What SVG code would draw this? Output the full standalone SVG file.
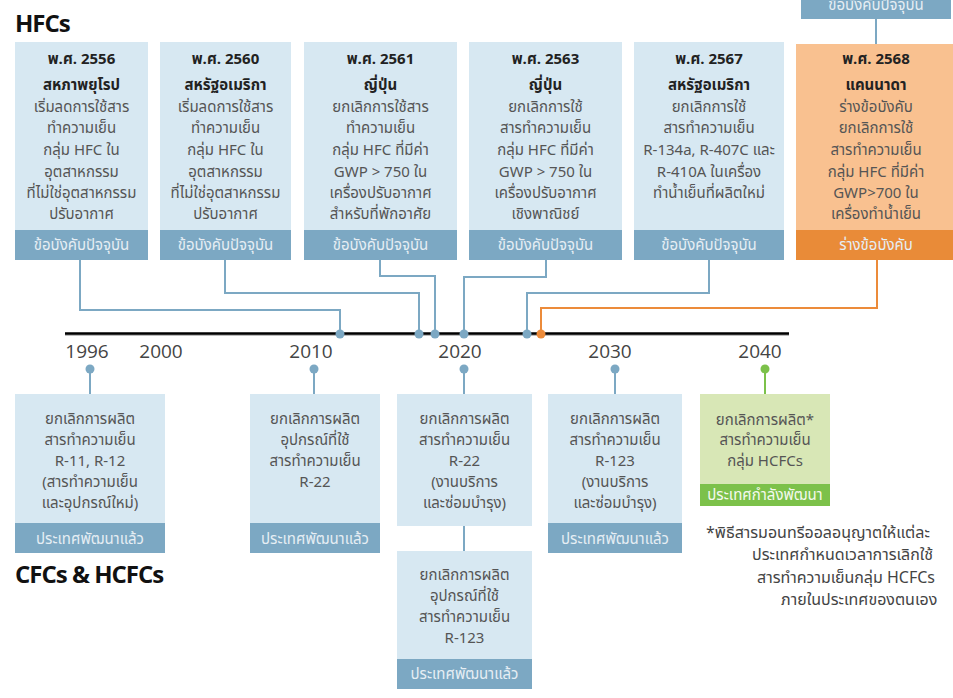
<svg xmlns="http://www.w3.org/2000/svg" width="953" height="698" viewBox="0 0 953 698">
<style>
text{font-family:"Noto Sans Thai","Noto Sans","Liberation Sans",sans-serif;}
.body{fill:#d7e8f2}
.foot{fill:#7ca8c3}
.obody{fill:#f9c190}
.ofoot{fill:#e98b38}
.gbody{fill:#d8e7b6}
.gfoot{fill:#7cc14a}
.h{font-size:15px;font-weight:bold;fill:#222;text-anchor:middle}
.t{font-size:15px;fill:#555;text-anchor:middle}
.ft{font-size:15px;fill:#e6eef4;text-anchor:middle}
.yr{font-family:"Open Sans","Noto Sans",sans-serif;font-size:19px;fill:#444;text-anchor:middle}
.title{font-family:"Open Sans","Liberation Sans",sans-serif;font-size:24px;font-weight:bold;fill:#111;letter-spacing:-1px}
.note{font-size:16px;fill:#444}
.c{fill:none;stroke:#7ca8c3;stroke-width:2}
.co{fill:none;stroke:#ec8b3a;stroke-width:2}
.cg{fill:none;stroke:#7cc14a;stroke-width:2}
</style>

<text class="title" x="15" y="32">HFCs</text>
<text class="title" x="15" y="583">CFCs &amp; HCFCs</text>

<g id="connectors">
  <path class="c" d="M80 259 V310 H340 V334"/>
  <path class="c" d="M225 259 V293 H419 V334"/>
  <path class="c" d="M380 259 V276 H435 V334"/>
  <path class="c" d="M546 259 V277 H464 V334"/>
  <path class="c" d="M709 259 V293 H527 V334"/>
  <path class="co" d="M877 259 V308 H541 V334"/>
  <path class="c" d="M876 19 V44"/>
  <path class="c" d="M90 369 V394"/>
  <path class="c" d="M314 369 V394"/>
  <path class="c" d="M464 369 V394"/>
  <path class="c" d="M464 526 V551"/>
  <path class="c" d="M615 369 V394"/>
  <path class="cg" d="M765 369 V394"/>
</g>

<g id="timeline">
  <line x1="65" y1="334.5" x2="789" y2="334.5" stroke="#bbb" stroke-width="3"/>
  <line x1="65" y1="333.5" x2="789" y2="333.5" stroke="#000" stroke-width="2.5"/>
  <circle cx="340" cy="334" r="4.5" fill="#7ca8c3"/>
  <circle cx="419" cy="334" r="4.5" fill="#7ca8c3"/>
  <circle cx="435" cy="334" r="4.5" fill="#7ca8c3"/>
  <circle cx="464" cy="334" r="4.5" fill="#7ca8c3"/>
  <circle cx="527" cy="334" r="4.5" fill="#7ca8c3"/>
  <circle cx="541" cy="334" r="4.5" fill="#ec8b3a"/>
  <text class="yr" x="87" y="358">1996</text>
  <text class="yr" x="161" y="358">2000</text>
  <text class="yr" x="311" y="358">2010</text>
  <text class="yr" x="460" y="358">2020</text>
  <text class="yr" x="610" y="358">2030</text>
  <text class="yr" x="760" y="358">2040</text>
  <circle cx="90" cy="369" r="4.5" fill="#7ca8c3"/>
  <circle cx="314" cy="369" r="4.5" fill="#7ca8c3"/>
  <circle cx="464" cy="369" r="4.5" fill="#7ca8c3"/>
  <circle cx="615" cy="369" r="4.5" fill="#7ca8c3"/>
  <circle cx="765" cy="369" r="4.5" fill="#7cc14a"/>
</g>

<g id="top-partial">
  <rect class="foot" x="801" y="-11" width="150" height="30"/>
  <text class="ft" x="876" y="10">ข้อบังคับปัจจุบัน</text>
</g>

<g id="hfc-2556">
  <rect class="body" x="15" y="42" width="133" height="188"/>
  <rect class="foot" x="15" y="230" width="133" height="30"/>
  <text class="h" x="81.5" y="64">พ.ศ. 2556</text>
  <text class="h" x="81.5" y="90">สหภาพยุโรป</text>
  <text class="t" x="81.5" y="112">เริ่มลดการใช้สาร</text>
  <text class="t" x="81.5" y="133">ทำความเย็น</text>
  <text class="t" x="81.5" y="155">กลุ่ม HFC ใน</text>
  <text class="t" x="81.5" y="177">อุตสาหกรรม</text>
  <text class="t" x="81.5" y="198">ที่ไม่ใช่อุตสาหกรรม</text>
  <text class="t" x="81.5" y="219">ปรับอากาศ</text>
  <text class="ft" x="81.5" y="250">ข้อบังคับปัจจุบัน</text>
</g>

<g id="hfc-2560">
  <rect class="body" x="160" y="42" width="131" height="188"/>
  <rect class="foot" x="160" y="230" width="131" height="30"/>
  <text class="h" x="225.5" y="64">พ.ศ. 2560</text>
  <text class="h" x="225.5" y="90">สหรัฐอเมริกา</text>
  <text class="t" x="225.5" y="112">เริ่มลดการใช้สาร</text>
  <text class="t" x="225.5" y="133">ทำความเย็น</text>
  <text class="t" x="225.5" y="155">กลุ่ม HFC ใน</text>
  <text class="t" x="225.5" y="177">อุตสาหกรรม</text>
  <text class="t" x="225.5" y="198">ที่ไม่ใช่อุตสาหกรรม</text>
  <text class="t" x="225.5" y="219">ปรับอากาศ</text>
  <text class="ft" x="225.5" y="250">ข้อบังคับปัจจุบัน</text>
</g>

<g id="hfc-2561">
  <rect class="body" x="304" y="42" width="153" height="188"/>
  <rect class="foot" x="304" y="230" width="153" height="30"/>
  <text class="h" x="380.5" y="64">พ.ศ. 2561</text>
  <text class="h" x="380.5" y="90">ญี่ปุ่น</text>
  <text class="t" x="380.5" y="112">ยกเลิกการใช้สาร</text>
  <text class="t" x="380.5" y="133">ทำความเย็น</text>
  <text class="t" x="380.5" y="155">กลุ่ม HFC ที่มีค่า</text>
  <text class="t" x="380.5" y="177">GWP &gt; 750 ใน</text>
  <text class="t" x="380.5" y="198">เครื่องปรับอากาศ</text>
  <text class="t" x="380.5" y="219">สำหรับที่พักอาศัย</text>
  <text class="ft" x="380.5" y="250">ข้อบังคับปัจจุบัน</text>
</g>

<g id="hfc-2563">
  <rect class="body" x="469" y="42" width="153" height="188"/>
  <rect class="foot" x="469" y="230" width="153" height="30"/>
  <text class="h" x="545.5" y="64">พ.ศ. 2563</text>
  <text class="h" x="545.5" y="90">ญี่ปุ่น</text>
  <text class="t" x="545.5" y="112">ยกเลิกการใช้</text>
  <text class="t" x="545.5" y="133">สารทำความเย็น</text>
  <text class="t" x="545.5" y="155">กลุ่ม HFC ที่มีค่า</text>
  <text class="t" x="545.5" y="177">GWP &gt; 750 ใน</text>
  <text class="t" x="545.5" y="198">เครื่องปรับอากาศ</text>
  <text class="t" x="545.5" y="219">เชิงพาณิชย์</text>
  <text class="ft" x="545.5" y="250">ข้อบังคับปัจจุบัน</text>
</g>

<g id="hfc-2567">
  <rect class="body" x="634" y="42" width="150" height="188"/>
  <rect class="foot" x="634" y="230" width="150" height="30"/>
  <text class="h" x="709" y="64">พ.ศ. 2567</text>
  <text class="h" x="709" y="90">สหรัฐอเมริกา</text>
  <text class="t" x="709" y="112">ยกเลิกการใช้</text>
  <text class="t" x="709" y="133">สารทำความเย็น</text>
  <text class="t" x="709" y="155">R-134a, R-407C และ</text>
  <text class="t" x="709" y="177">R-410A ในเครื่อง</text>
  <text class="t" x="709" y="198">ทำน้ำเย็นที่ผลิตใหม่</text>
  <text class="ft" x="709" y="250">ข้อบังคับปัจจุบัน</text>
</g>

<g id="hfc-2568">
  <rect class="obody" x="796" y="44" width="160" height="186"/>
  <rect class="ofoot" x="796" y="230" width="160" height="30"/>
  <text class="h" x="876" y="64">พ.ศ. 2568</text>
  <text class="h" x="876" y="90">แคนนาดา</text>
  <text class="t" x="876" y="112">ร่างข้อบังคับ</text>
  <text class="t" x="876" y="133">ยกเลิกการใช้</text>
  <text class="t" x="876" y="155">สารทำความเย็น</text>
  <text class="t" x="876" y="177">กลุ่ม HFC ที่มีค่า</text>
  <text class="t" x="876" y="198">GWP&gt;700 ใน</text>
  <text class="t" x="876" y="219">เครื่องทำน้ำเย็น</text>
  <text class="ft" x="876" y="250">ร่างข้อบังคับ</text>
</g>

<g id="cfc-1996">
  <rect class="body" x="15" y="394" width="150" height="129"/>
  <rect class="foot" x="15" y="523" width="150" height="30"/>
  <text class="t" x="90" y="424">ยกเลิกการผลิต</text>
  <text class="t" x="90" y="445">สารทำความเย็น</text>
  <text class="t" x="90" y="466">R-11, R-12</text>
  <text class="t" x="90" y="487">(สารทำความเย็น</text>
  <text class="t" x="90" y="508">และอุปกรณ์ใหม่)</text>
  <text class="ft" x="90" y="544">ประเทศพัฒนาแล้ว</text>
</g>

<g id="cfc-2010">
  <rect class="body" x="250" y="394" width="130" height="129"/>
  <rect class="foot" x="250" y="523" width="130" height="30"/>
  <text class="t" x="315" y="424">ยกเลิกการผลิต</text>
  <text class="t" x="315" y="445">อุปกรณ์ที่ใช้</text>
  <text class="t" x="315" y="466">สารทำความเย็น</text>
  <text class="t" x="315" y="487">R-22</text>
  <text class="ft" x="315" y="544">ประเทศพัฒนาแล้ว</text>
</g>

<g id="cfc-2020-a">
  <rect class="body" x="397" y="394" width="135" height="132"/>
  <text class="t" x="464.5" y="424">ยกเลิกการผลิต</text>
  <text class="t" x="464.5" y="445">สารทำความเย็น</text>
  <text class="t" x="464.5" y="466">R-22</text>
  <text class="t" x="464.5" y="487">(งานบริการ</text>
  <text class="t" x="464.5" y="508">และซ่อมบำรุง)</text>
</g>

<g id="cfc-2020-b">
  <rect class="body" x="397" y="551" width="135" height="108"/>
  <rect class="foot" x="397" y="659" width="135" height="30"/>
  <text class="t" x="464.5" y="580">ยกเลิกการผลิต</text>
  <text class="t" x="464.5" y="601">อุปกรณ์ที่ใช้</text>
  <text class="t" x="464.5" y="622">สารทำความเย็น</text>
  <text class="t" x="464.5" y="643">R-123</text>
  <text class="ft" x="464.5" y="679">ประเทศพัฒนาแล้ว</text>
</g>

<g id="cfc-2030">
  <rect class="body" x="548" y="394" width="134" height="129"/>
  <rect class="foot" x="548" y="523" width="134" height="30"/>
  <text class="t" x="615" y="424">ยกเลิกการผลิต</text>
  <text class="t" x="615" y="445">สารทำความเย็น</text>
  <text class="t" x="615" y="466">R-123</text>
  <text class="t" x="615" y="487">(งานบริการ</text>
  <text class="t" x="615" y="508">และซ่อมบำรุง)</text>
  <text class="ft" x="615" y="544">ประเทศพัฒนาแล้ว</text>
</g>

<g id="cfc-2040">
  <rect class="gbody" x="700" y="394" width="130" height="90"/>
  <rect class="gfoot" x="700" y="484" width="130" height="22"/>
  <text class="t" x="765" y="425">ยกเลิกการผลิต*</text>
  <text class="t" x="765" y="445">สารทำความเย็น</text>
  <text class="t" x="765" y="466">กลุ่ม HCFCs</text>
  <text class="ft" x="765" y="500" style="fill:#f4f9ee">ประเทศกำลังพัฒนา</text>
</g>

<g id="footnote">
  <text class="note" x="706" y="538">*พิธีสารมอนทรีออลอนุญาตให้แต่ละ</text>
  <text class="note" x="752" y="560">ประเทศกำหนดเวลาการเลิกใช้</text>
  <text class="note" x="757" y="583">สารทำความเย็นกลุ่ม HCFCs</text>
  <text class="note" x="781" y="605">ภายในประเทศของตนเอง</text>
</g>
</svg>
